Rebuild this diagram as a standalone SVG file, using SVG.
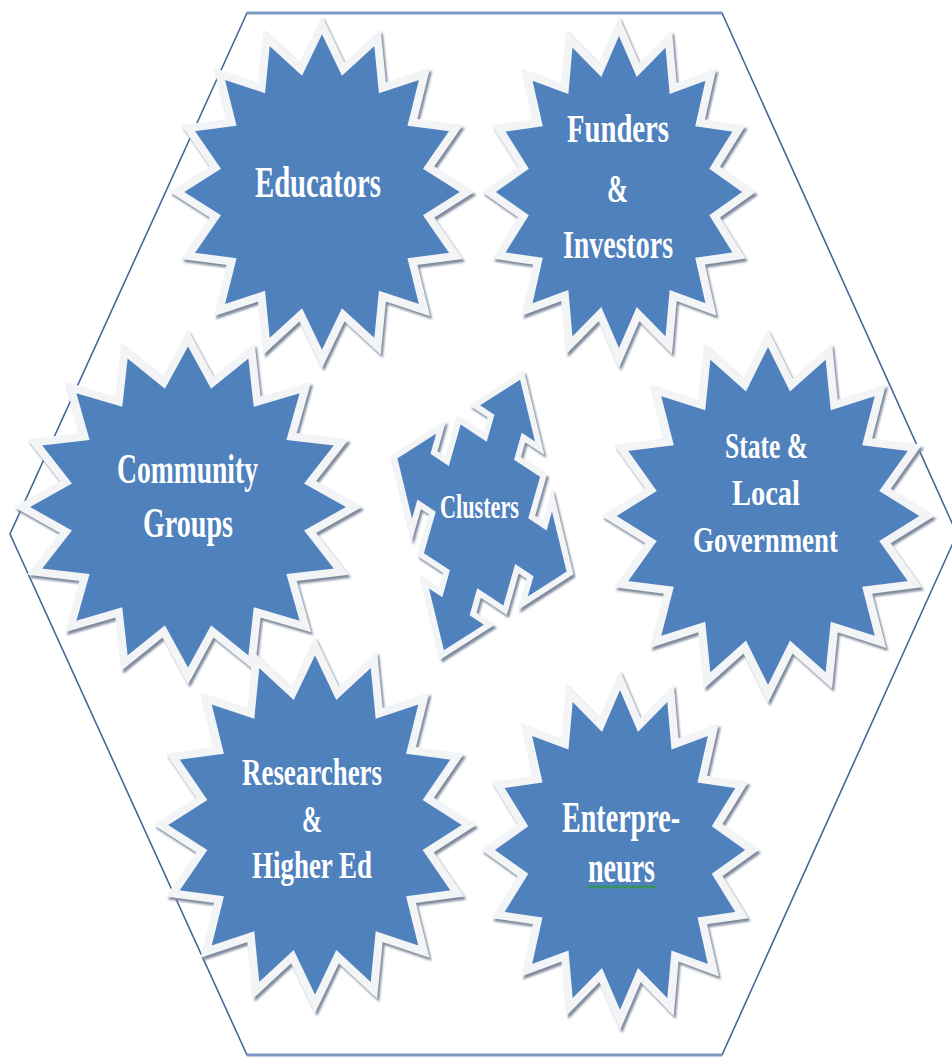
<svg xmlns="http://www.w3.org/2000/svg" xmlns:xlink="http://www.w3.org/1999/xlink" width="952" height="1057" viewBox="0 0 952 1057">
  <style>
    .frame { fill: none; stroke: #46699a; stroke-width: 1.6; stroke-linejoin: miter; }
    .frame-edge { stroke: #7b98c0; stroke-width: 3; }
    .shape { fill: #4f81bd; stroke: #f3f4f6; }
    .shade { fill: #7f8a9c; stroke: #7f8a9c; }
    .star-w { stroke-width: 8; }
    .arrow-w { stroke-width: 6; }
    .label { font-family: "Liberation Serif", "Times New Roman", serif; font-weight: bold; fill: #ffffff; }
    .squiggle { fill: none; stroke: #2f9a3a; stroke-width: 1.3; }
  </style>
  <defs>
    <filter id="soft" x="-10%" y="-10%" width="120%" height="120%">
      <feGaussianBlur stdDeviation="1.1"/>
    </filter>
    <!-- 16-point star, unit radius, inner radius 0.75 -->
    <path id="star16" vector-effect="non-scaling-stroke" stroke-linejoin="miter" stroke-miterlimit="10"
      d="M0,-1 L0.14632,-0.73559 L0.38268,-0.92388 L0.41668,-0.6236 L0.70711,-0.70711 L0.6236,-0.41668 L0.92388,-0.38268 L0.73559,-0.14632 L1,0 L0.73559,0.14632 L0.92388,0.38268 L0.6236,0.41668 L0.70711,0.70711 L0.41668,0.6236 L0.38268,0.92388 L0.14632,0.73559 L0,1 L-0.14632,0.73559 L-0.38268,0.92388 L-0.41668,0.6236 L-0.70711,0.70711 L-0.6236,0.41668 L-0.92388,0.38268 L-0.73559,0.14632 L-1,0 L-0.73559,-0.14632 L-0.92388,-0.38268 L-0.6236,-0.41668 L-0.70711,-0.70711 L-0.41668,-0.6236 L-0.38268,-0.92388 L-0.14632,-0.73559 Z"/>
    <!-- quad arrow callout, unit half-size -->
    <path id="quad" vector-effect="non-scaling-stroke" stroke-linejoin="miter" stroke-miterlimit="10"
      d="M-1,0 L-0.63,-0.37 L-0.63,-0.185 L-0.481,-0.185 L-0.481,-0.481 L-0.185,-0.481 L-0.185,-0.63 L-0.37,-0.63 L0,-1 L0.37,-0.63 L0.185,-0.63 L0.185,-0.481 L0.481,-0.481 L0.481,-0.185 L0.63,-0.185 L0.63,-0.37 L1,0 L0.63,0.37 L0.63,0.185 L0.481,0.185 L0.481,0.481 L0.185,0.481 L0.185,0.63 L0.37,0.63 L0,1 L-0.37,0.63 L-0.185,0.63 L-0.185,0.481 L-0.481,0.481 L-0.481,0.185 L-0.63,0.185 L-0.63,0.37 Z"/>
  </defs>

  <rect width="952" height="1057" fill="#ffffff"/>

  <!-- hexagonal frame -->
  <g id="frame">
    <polygon class="frame" points="247,13 722,13 957,534 722,1055 247,1055 10,534"/>
    <line class="frame-edge" x1="247" y1="13" x2="722" y2="13"/>
    <line class="frame-edge" x1="247" y1="1055" x2="722" y2="1055"/>
  </g>

  <g id="connectors"/>

  <g id="node-educators">
    <g transform="translate(2 3)" filter="url(#soft)">
      <use xlink:href="#star16" class="shade star-w" transform="translate(322 192) scale(145 167)"/>
    </g>
    <use xlink:href="#star16" class="shape star-w" transform="translate(322 192) scale(145 167)"/>
    <text class="label" x="255" y="197" font-size="44" textLength="126" lengthAdjust="spacingAndGlyphs">Educators</text>
  </g>

  <g id="node-funders">
    <g transform="translate(2 3)" filter="url(#soft)">
      <use xlink:href="#star16" class="shade star-w" transform="translate(619 192) scale(130 166)"/>
    </g>
    <use xlink:href="#star16" class="shape star-w" transform="translate(619 192) scale(130 166)"/>
    <text class="label" x="567" y="142" font-size="41" textLength="102" lengthAdjust="spacingAndGlyphs">Funders</text>
    <text class="label" x="607" y="202" font-size="41" textLength="21" lengthAdjust="spacingAndGlyphs">&amp;</text>
    <text class="label" x="563" y="258" font-size="41" textLength="110" lengthAdjust="spacingAndGlyphs">Investors</text>
  </g>

  <g id="node-community">
    <g transform="translate(2 3)" filter="url(#soft)">
      <use xlink:href="#star16" class="shade star-w" transform="translate(188 507) scale(166 169)"/>
    </g>
    <use xlink:href="#star16" class="shape star-w" transform="translate(188 507) scale(166 169)"/>
    <text class="label" x="117" y="483" font-size="42" textLength="141" lengthAdjust="spacingAndGlyphs">Community</text>
    <text class="label" x="143" y="537" font-size="42" textLength="90" lengthAdjust="spacingAndGlyphs">Groups</text>
  </g>

  <g id="node-government">
    <g transform="translate(2 3)" filter="url(#soft)">
      <use xlink:href="#star16" class="shade star-w" transform="translate(768 516) scale(159 178)"/>
    </g>
    <use xlink:href="#star16" class="shape star-w" transform="translate(768 516) scale(159 178)"/>
    <text class="label" x="725" y="458" font-size="35" textLength="83" lengthAdjust="spacingAndGlyphs">State &amp;</text>
    <text class="label" x="732" y="505" font-size="35" textLength="68" lengthAdjust="spacingAndGlyphs">Local</text>
    <text class="label" x="693" y="552" font-size="35" textLength="145" lengthAdjust="spacingAndGlyphs">Government</text>
  </g>

  <g id="node-researchers">
    <g transform="translate(2 3)" filter="url(#soft)">
      <use xlink:href="#star16" class="shade star-w" transform="translate(315 825) scale(154 179)"/>
    </g>
    <use xlink:href="#star16" class="shape star-w" transform="translate(315 825) scale(154 179)"/>
    <text class="label" x="242" y="785" font-size="38" textLength="140" lengthAdjust="spacingAndGlyphs">Researchers</text>
    <text class="label" x="302" y="832" font-size="38" textLength="20" lengthAdjust="spacingAndGlyphs">&amp;</text>
    <text class="label" x="252" y="878" font-size="38" textLength="120" lengthAdjust="spacingAndGlyphs">Higher Ed</text>
  </g>

  <g id="node-entrepreneurs">
    <g transform="translate(2 3)" filter="url(#soft)">
      <use xlink:href="#star16" class="shade star-w" transform="translate(620 850) scale(132 170)"/>
    </g>
    <use xlink:href="#star16" class="shape star-w" transform="translate(620 850) scale(132 170)"/>
    <text class="label" x="562" y="832" font-size="44" textLength="118" lengthAdjust="spacingAndGlyphs">Enterpre-</text>
    <text class="label" x="588" y="882" font-size="44" textLength="67" lengthAdjust="spacingAndGlyphs">neurs</text>
    <path class="squiggle" d="M588,888 l2,-2 l2,2 l2,-2 l2,2 l2,-2 l2,2 l2,-2 l2,2 l2,-2 l2,2 l2,-2 l2,2 l2,-2 l2,2 l2,-2 l2,2 l2,-2 l2,2 l2,-2 l2,2 l2,-2 l2,2 l2,-2 l2,2 l2,-2 l2,2 l2,-2 l2,2 l2,-2 l2,2 l2,-2 l2,2 l2,-2 l2,2"/>
  </g>

  <g id="node-clusters">
    <g transform="translate(2 3)" filter="url(#soft)">
      <use xlink:href="#quad" class="shade arrow-w" transform="matrix(88 58 -40 140 482 515)"/>
    </g>
    <use xlink:href="#quad" class="shape arrow-w" transform="matrix(88 58 -40 140 482 515)"/>
    <text class="label" x="440" y="518" font-size="34" textLength="79" lengthAdjust="spacingAndGlyphs">Clusters</text>
  </g>
</svg>
